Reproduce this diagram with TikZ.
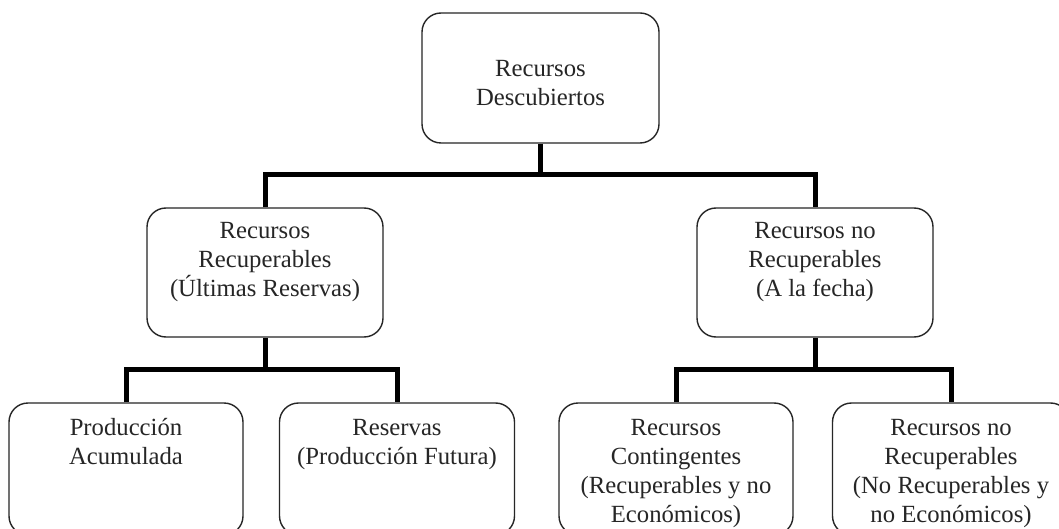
\documentclass[tikz,border=0pt]{standalone}
\usepackage{fontspec}
\setmainfont{Liberation Serif}
\begin{document}
\begin{tikzpicture}[x=1pt,y=-1pt,
  box/.style={draw=black!85, line width=1.4pt, rounded corners=19pt, fill=white, inner sep=0pt},
  txt/.style={align=center, inner sep=0pt, anchor=north, font=\fontsize{24.7}{29}\selectfont, text=black!85},
  conn/.style={draw=black, line width=5pt}]
\clip (0,0) rectangle (1059,529);
\useasboundingbox (0,0) rectangle (1059,529);
\fill[white] (0,0) rectangle (1059,529);
% boxes
\node[box, minimum width=237pt, minimum height=130pt] (top) at (540.5,78) {};
\node[box, minimum width=236pt, minimum height=129pt] (ml) at (265,272.5) {};
\node[box, minimum width=236pt, minimum height=129pt] (mr) at (815,272.5) {};
\node[box, minimum width=234pt, minimum height=132pt] (b1) at (126,469) {};
\node[box, minimum width=235pt, minimum height=132pt] (b2) at (397,469) {};
\node[box, minimum width=234pt, minimum height=132pt] (b3) at (676,469) {};
\node[box, minimum width=237pt, minimum height=132pt] (b4) at (951,469) {};
% texts
\node[txt] (ttop) at (540.5,55.7) {\strut Recursos\\Descubiertos};
\node[txt] (tml) at (265,217.7) {\strut Recursos\\Recuperables\\(Últimas Reservas)};
\node[txt] (tmr) at (815,217.7) {\strut Recursos no\\Recuperables\\(A la fecha)};
\node[txt] (tb1) at (126,414.7) {\strut Producción\\Acumulada};
\node[txt] (tb2) at (397,414.7) {\strut Reservas\\(Producción Futura)};
\node[txt] (tb3) at (676,414.7) {\strut Recursos\\Contingentes\\(Recuperables y no\\Económicos)};
\node[txt] (tb4) at (951,414.7) {\strut Recursos no\\Recuperables\\(No Recuperables y\\no Económicos)};
% junctions
\coordinate (j1) at (540.5,175);
\coordinate (j2) at (265,369);
\coordinate (j3) at (815,369);
% connectors
\draw[conn] (top.south) -- (j1);
\draw[conn] (ml.north) |- (j1) -| (mr.north);
\draw[conn] (ml.south) -- (j2);
\draw[conn] (b1.north) |- (j2) -| (b2.north);
\draw[conn] (mr.south) -- (j3);
\draw[conn] (b3.north) |- (j3) -| (b4.north);
\end{tikzpicture}
\end{document}
